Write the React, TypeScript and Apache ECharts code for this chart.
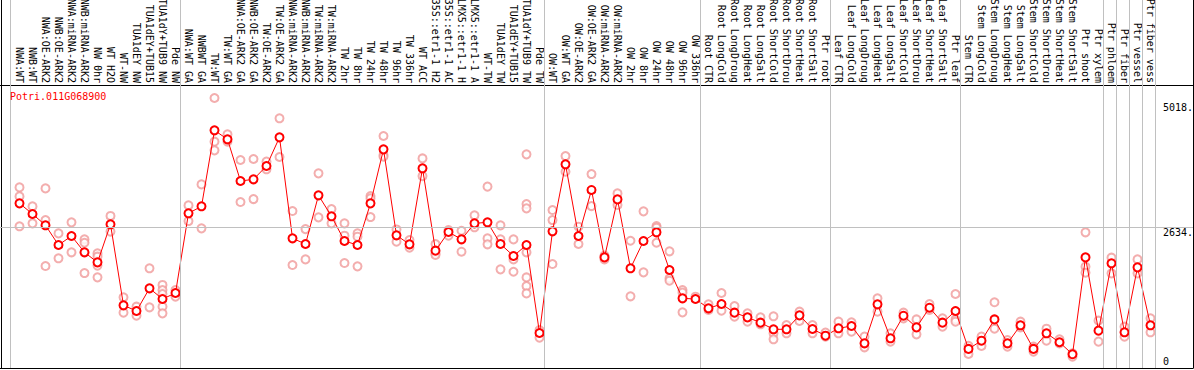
import React, { useEffect, useRef } from 'react';
import * as echarts from 'echarts';

const geneId = 'Potri.011G068900';

const labels: string[] = [
  'NWA:WT', 'NWB:WT', 'NWA:OE-ARK2', 'NWB:OE-ARK2', 'NWA:miRNA-ARK2', 'NWB:miRNA-ARK2', 'NW 0hr', 'WT H2O', 'WT-NW',
  'TUA1dEY NW', 'TUA1dEY+TUB15', 'TUA1dY+TUB9 NW', 'Pde NW',
  'NWA:WT GA', 'NWBWT GA', 'TW:WT', 'TW:WT GA', 'NWA:OE-ARK2 GA', 'NWB:OE-ARK2 GA', 'TW:OE-ARK2', 'TW:OE-ARK2 GA',
  'NWA:miRNA-ARK2', 'NWB:miRNA-ARK2', 'TW:miRNA-ARK2', 'TW:miRNA-ARK2', 'TW 2hr', 'TW 8hr', 'TW 24hr', 'TW 48hr',
  'TW 96hr', 'TW 336hr', 'WT ACC', '35S::etr1-1 H2', '35S::etr1-1 AC', 'LMX5::etr1-1 H', 'LMX5::etr1-1 A', 'WT-TW',
  'TUA1dEY TW', 'TUA1dEY+TUB15', 'TUA1dY+TUB9 TW', 'Pde TW',
  'OW:WT', 'OW:WT GA', 'OW:OE-ARK2', 'OW:OE-ARK2 GA', 'OW:miRNA-ARK2', 'OW:miRNA-ARK2', 'OW 2hr', 'OW 8hr', 'OW 24hr',
  'OW 48hr', 'OW 96hr', 'OW 336hr',
  'Root CTR', 'Root LongCold', 'Root LongDroug', 'Root LongHeat', 'Root LongSalt', 'Root ShortCold', 'Root ShortDrou',
  'Root ShortHeat', 'Root ShortSalt', 'Ptr root',
  'Leaf CTR', 'Leaf LongCold', 'Leaf LongDroug', 'Leaf LongHeat', 'Leaf LongSalt', 'Leaf ShortCold', 'Leaf ShortDrou',
  'Leaf ShortHeat', 'Leaf ShortSalt', 'Ptr leaf',
  'Stem CTR', 'Stem LongCold', 'Stem LongDroug', 'Stem LongHeat', 'Stem LongSalt', 'Stem ShortCold', 'Stem ShortDrou',
  'Stem ShortHeat', 'Stem ShortSalt', 'Ptr shoot', 'Ptr xylem', 'Ptr phloem', 'Ptr fiber', 'Ptr vessel', 'Ptr fiber vess',
];

const means: number[] = [
  3095, 2893, 2678, 2304, 2475, 2165, 1975, 2697, 1159, 1052, 1482, 1279, 1393,
  2906, 3039, 4481, 4310, 3519, 3551, 3804, 4348, 2431, 2323, 3247, 2849, 2380, 2304, 3095, 4120, 2488, 2317,
  3760, 2197, 2551, 2412, 2715, 2735, 2323, 2096, 2304, 634,
  2564, 3836, 2475, 3349, 2069, 3170, 1862, 2380, 2545, 1830, 1292, 1279,
  1102, 1184, 1020, 931, 830, 704, 704, 969, 710, 583,
  723, 767, 438, 1178, 533, 962, 741, 1114, 830, 1052,
  332, 488, 892, 438, 780, 332, 628, 458, 230, 2069, 679, 1957, 647, 1880, 780,
];

const replicates: number[][] = [
  [3398, 3227, 2659], [3037, 2715], [3379, 2779, 1905], [2525, 2052], [2734, 2165], [2411, 2347, 1772],
  [2146, 2083, 1913, 1690], [2856, 2559], [1311, 1020], [1134, 963], [1862, 1121], [1546, 1450, 1374, 1134, 1007],
  [1450, 1323],
  [3056, 2759], [3455, 2620], [5095, 4266, 4101], [4405, 4266], [3918, 3120], [3937, 3176], [3887, 3741],
  [4709, 3975], [2949, 1924], [2606, 2031], [3664, 2829], [2987, 2715], [2715, 2481, 1962], [2525, 2462, 1899],
  [3234, 3189, 2835], [4373, 4012, 3981], [2600, 2366], [2398, 2252], [3948, 3612], [2323, 2146, 2114],
  [2588, 2481], [2575, 2177], [2868, 2640], [3412, 2430, 2317], [2677, 2411, 1842], [2411, 2031, 1797],
  [4025, 3082, 3000, 2165, 1689, 1525, 1386], [691, 546],
  [2968, 2778, 1943], [3993, 3695], [2652, 2323], [3651, 3043], [2102, 2031], [3284, 3063], [2385, 1330],
  [2943, 1785], [2664, 2633, 2347], [2184, 1672, 1627], [1450, 1400, 1026], [1323],
  [1178, 1071], [1393, 1058], [1146, 944], [1007, 849], [931, 799], [951, 628, 514], [786, 628], [1039, 862],
  [786, 628], [641, 565],
  [849, 628], [837, 660], [565, 362], [1292, 1039], [628, 470], [1020, 912], [892, 608], [1184, 1071],
  [912, 754], [1374, 892, 849],
  [389, 235], [565, 389], [1217, 716], [501, 375], [849, 741], [375, 280], [716, 488], [514, 438], [248, 185],
  [2545, 1893, 1779], [868, 470], [2064, 1766], [754, 565], [2031, 1766], [912, 647],
];

// index of the last category in each separated block
const groupEnds: number[] = [12, 40, 52, 62, 72, 83, 84, 85, 86, 87];
const yLabelValues: number[] = [2634, 5018];
const yZeroValue: number[] = [0];
const gridLineValue = 2634;

export default function App() {
  const ref = useRef<HTMLDivElement>(null);
  useEffect(() => {
    const chart = echarts.init(ref.current!, null, { renderer: 'svg' });
    const FONT = 'DejaVu Sans Mono';
    const W = 1193;
    const step = 13;
    const xMin = -1.5;
    const xMax = xMin + W / step;
    const yMin = -30.4;
    const yMax = 6955;
    const sepColor = '#c0c0c0';

    const repData: number[][] = [];
    replicates.forEach((arr, i) => arr.forEach((v) => repData.push([i, v])));
    const meanData = means.map((v, i) => [i, v]);

    const sepLines = [{ xAxis: -0.7 }, ...groupEnds.map((e) => ({ xAxis: e + 0.4 }))];

    const baseX = {
      type: 'value',
      min: xMin,
      max: xMax,
      interval: 0.5,
      splitLine: { show: false },
      axisTick: { show: false },
      axisLine: { show: true, onZero: false, lineStyle: { color: '#000', width: 1 } },
    };
    const baseY = {
      type: 'value',
      min: yMin,
      max: yMax,
      splitLine: { show: false },
      axisTick: { show: false },
    };

    chart.setOption({
      animation: false,
      backgroundColor: '#fff',
      title: {
        text: geneId,
        left: 10,
        top: 91,
        padding: 0,
        textStyle: { fontFamily: FONT, fontSize: 10, fontWeight: 'normal', color: '#ff0000' },
      },
      grid: { left: 0, top: 0, width: W, height: 368, outerBoundsMode: 'none', containLabel: false },
      xAxis: [
        {
          ...baseX,
          position: 'top',
          offset: -85,
          axisLabel: {
            show: true,
            rotate: 90,
            margin: 2,
            color: '#000',
            fontFamily: FONT,
            fontSize: 10,
            formatter: (v: number) =>
              Number.isInteger(v) && v >= 0 && v < labels.length ? labels[v] : '',
          },
        },
        {
          ...baseX,
          position: 'bottom',
          axisLabel: { show: false },
        },
      ],
      yAxis: [
        {
          ...baseY,
          position: 'right',
          axisLine: { show: true, onZero: false, lineStyle: { color: '#000', width: 1 } },
          axisLabel: {
            show: true,
            inside: true,
            align: 'left',
            verticalAlign: 'top',
            margin: 30,
            color: '#000',
            fontFamily: FONT,
            fontSize: 10,
            customValues: yLabelValues,
            formatter: (v: number) => `${v}.`,
          },
        },
        {
          ...baseY,
          position: 'right',
          axisLine: { show: false, onZero: false },
          axisLabel: {
            show: true,
            inside: true,
            align: 'left',
            verticalAlign: 'bottom',
            margin: 30,
            color: '#000',
            fontFamily: FONT,
            fontSize: 10,
            customValues: yZeroValue,
            formatter: (v: number) => `${v}`,
          },
        },
        {
          ...baseY,
          position: 'left',
          offset: -1,
          axisLine: { show: true, onZero: false, lineStyle: { color: '#000', width: 1 } },
          axisLabel: { show: false },
        },
      ],
      series: [
        {
          type: 'scatter',
          name: 'replicates',
          xAxisIndex: 0,
          yAxisIndex: 0,
          data: repData,
          symbol: 'emptyCircle',
          symbolSize: 8,
          itemStyle: { color: '#f09a9a', borderColor: '#f09a9a', borderWidth: 1.2 },
          silent: true,
          markLine: {
            silent: true,
            symbol: ['none', 'none'],
            label: { show: false },
            lineStyle: { color: sepColor, type: 'solid', width: 1 },
            emphasis: { disabled: true },
            data: [...sepLines, { yAxis: gridLineValue }],
          },
        },
        {
          type: 'line',
          name: 'mean',
          xAxisIndex: 0,
          yAxisIndex: 0,
          data: meanData,
          symbol: 'emptyCircle',
          symbolSize: 8,
          showAllSymbol: true,
          lineStyle: { color: '#ff0000', width: 1 },
          itemStyle: { color: '#ff0000', borderColor: '#ff0000', borderWidth: 1.5 },
          silent: true,
        },
      ],
    });
    return () => chart.dispose();
  }, []);
  return (
    <div
      ref={ref}
      style={{ position: 'fixed', left: 0, top: 0, width: 1194, height: 370, background: '#fff' }}
    />
  );
}
